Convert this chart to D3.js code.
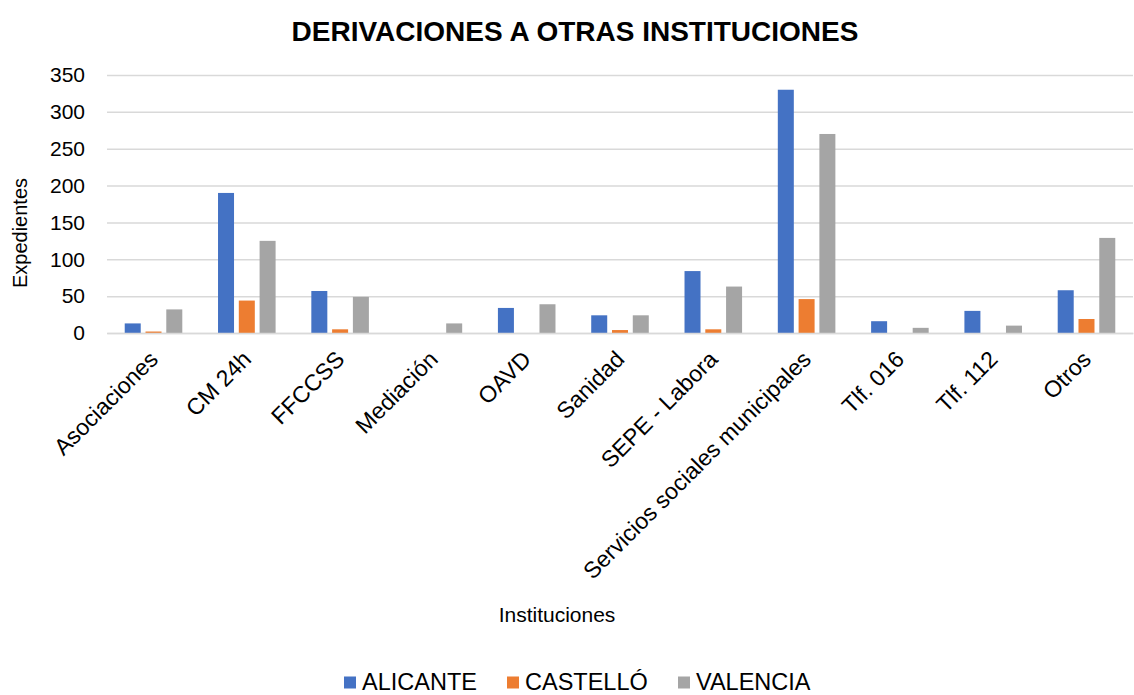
<!DOCTYPE html>
<html>
<head>
<meta charset="utf-8">
<script src="https://cdn.jsdelivr.net/npm/d3@7"></script>
<style>
  body { margin: 0; background: #fff; }
  svg text { font-family: "Liberation Sans", Arial, sans-serif; fill: #000; }
</style>
</head>
<body>
<div id="chart"></div>
<script>
const categories = ["Asociaciones", "CM 24h", "FFCCSS", "Mediación", "OAVD", "Sanidad",
  "SEPE - Labora", "Servicios sociales municipales", "Tlf. 016", "Tlf. 112", "Otros"];
const seriesNames = ["ALICANTE", "CASTELLÓ", "VALENCIA"];
const alicante = [13, 190, 57, 0, 34, 24, 84, 330, 16, 30, 58];
const castello = [2, 44, 5, 0, 0, 4, 5, 46, 0, 0, 19];
const valencia = [32, 125, 49, 13, 39, 24, 63, 270, 7, 10, 129];
const yTicks = [0, 50, 100, 150, 200, 250, 300, 350];
const colors = ["#4472c4", "#ed7d31", "#a5a5a5"];

const width = 1134;
const height = 695;
const margin = {top: 75, right: 1, bottom: 362, left: 107};

const series = [alicante, castello, valencia];
const data = categories.map((c, i) => ({name: c, values: series.map((s, k) => ({key: seriesNames[k], value: s[i]}))}));

const x0 = d3.scaleBand().domain(categories).range([margin.left, width - margin.right])
  .paddingInner(0.383).paddingOuter(0.19);
const x1 = d3.scaleBand().domain(seriesNames).range([0, x0.bandwidth()]).paddingInner(0.23);
const y = d3.scaleLinear().domain([0, 350]).range([height - margin.bottom, margin.top]);
const color = d3.scaleOrdinal().domain(seriesNames).range(colors);

const svg = d3.select("#chart").append("svg")
  .attr("width", width).attr("height", height)
  .attr("viewBox", [0, 0, width, height]);

// title
svg.append("text")
  .attr("x", 575).attr("y", 41)
  .attr("text-anchor", "middle")
  .style("font-size", "28px").style("font-weight", "bold")
  .text("DERIVACIONES A OTRAS INSTITUCIONES");

// gridlines + y labels
const yAxis = g => g.attr("transform", `translate(${margin.left},0)`)
  .call(d3.axisLeft(y).tickValues(yTicks).tickSize(-(width - margin.left - margin.right)).tickPadding(22))
  .call(g => g.select(".domain").remove())
  .call(g => g.selectAll(".tick line").attr("stroke", "#d9d9d9").attr("stroke-width", 1.5))
  .call(g => g.selectAll(".tick text").style("font-size", "21px").attr("font-family", null));
svg.append("g").call(yAxis);

// bars
svg.append("g")
  .selectAll("g")
  .data(data)
  .join("g")
  .attr("transform", d => `translate(${x0(d.name)},0)`)
  .selectAll("rect")
  .data(d => d.values)
  .join("rect")
  .attr("x", d => x1(d.key))
  .attr("y", d => y(d.value))
  .attr("width", x1.bandwidth())
  .attr("height", d => y(0) - y(d.value))
  .attr("fill", d => color(d.key));

// x axis
const xAxis = g => g.attr("transform", `translate(0,${y(0)})`)
  .call(d3.axisBottom(x0).tickSize(0).tickPadding(10))
  .call(g => g.select(".domain").attr("stroke", "#d9d9d9").attr("stroke-width", 1.5))
  .call(g => g.selectAll(".tick text")
    .style("font-size", "23px").attr("font-family", null)
    .attr("text-anchor", "end")
    .attr("dy", "0.35em")
    .attr("transform", "translate(-7,15) rotate(-45)"));
svg.append("g").call(xAxis);

// axis titles
svg.append("text")
  .attr("transform", `translate(27,233) rotate(-90)`)
  .attr("text-anchor", "middle")
  .style("font-size", "20px")
  .text("Expedientes");

svg.append("text")
  .attr("x", 557).attr("y", 622)
  .attr("text-anchor", "middle")
  .style("font-size", "21px")
  .text("Instituciones");

// legend
const legendX = [344, 507, 678];
const legend = svg.append("g")
  .selectAll("g")
  .data(seriesNames)
  .join("g")
  .attr("transform", (d, i) => `translate(${legendX[i]},690)`);
legend.append("rect").attr("x", 0).attr("y", -13.5).attr("width", 12).attr("height", 12).attr("fill", d => color(d));
legend.append("text").attr("x", 18).style("font-size", "23.5px").text(d => d);
</script>
</body>
</html>
